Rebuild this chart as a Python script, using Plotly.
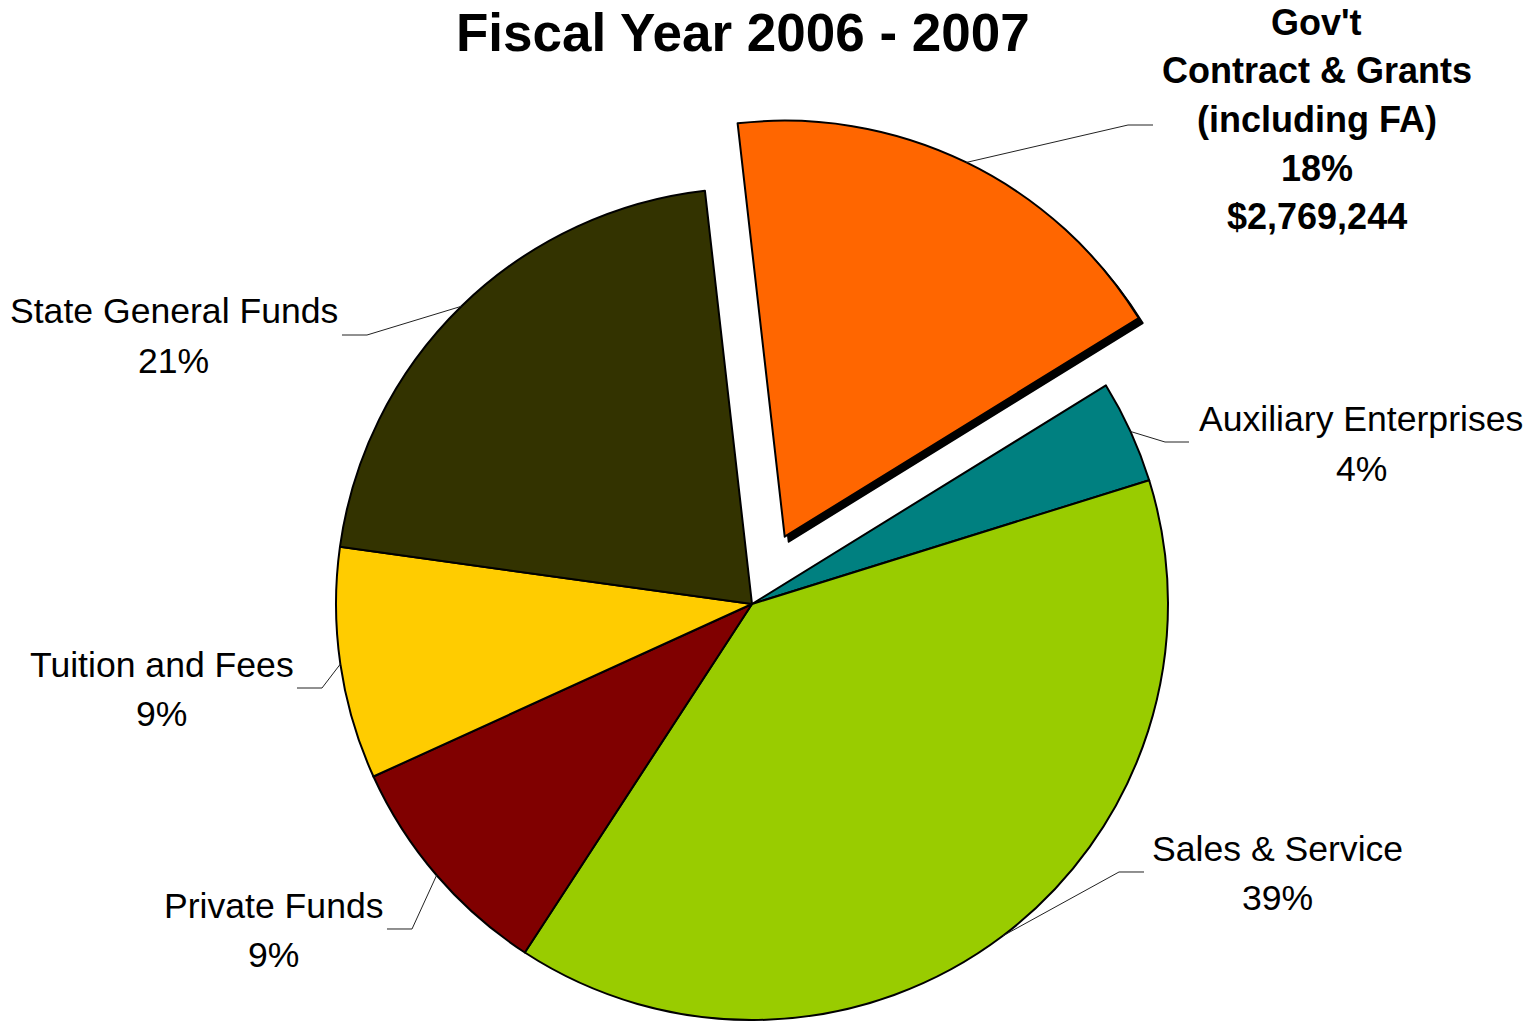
import math
import plotly.graph_objects as go

# ---- data -------------------------------------------------------------
categories = [
    "Gov't Contract & Grants (including FA)",
    "Auxiliary Enterprises",
    "Sales & Service",
    "Private Funds",
    "Tuition and Fees",
    "State General Funds",
]
shares = [18, 4, 39, 9, 9, 21]          # percent of total revenue
gov_amount = "$2,769,244"               # dollar figure shown for the exploded slice
label_names = [
    ["Gov't", "Contract & Grants", "(including FA)"],
    ["Auxiliary Enterprises"],
    ["Sales & Service"],
    ["Private Funds"],
    ["Tuition and Fees"],
    ["State General Funds"],
]
title_text = "Fiscal Year 2006 - 2007"

# ---- styling / layout -------------------------------------------------
colors = ["#FF6600", "#008080", "#99CC00", "#800000", "#FFCC00", "#333300"]
W, H = 1539, 1021
CX, CY, R = 752, 604, 416               # pie centre and radius in pixels
PULL = 0.18                             # explode distance of the first slice (fraction of R)
ROTATION = -6.5                         # start angle, clockwise from 12 o'clock
SHADOW = (4, 5)                         # drop-shadow offset of the exploded slice (px)
OUTLINE = 2
FONT = "Liberation Sans, Arial, sans-serif"
LINE_COLOR = "#222222"

# label placement: text block centre, elbow of the leader line, end of the horizontal tick
label_layout = [
    dict(cx=1316.5, cy=119.5, pitch=48.5, elbow=(1128, 125), end=1153, bold=True),
    dict(cx=1361.0, cy=444.0, pitch=49.5, elbow=(1165, 442), end=1189, bold=False),
    dict(cx=1277.5, cy=873.5, pitch=49.5, elbow=(1119, 872), end=1144, bold=False),
    dict(cx=273.5, cy=930.5, pitch=49.5, elbow=(412, 929), end=387, bold=False),
    dict(cx=161.5, cy=689.5, pitch=49.5, elbow=(322, 688), end=297, bold=False),
    dict(cx=173.5, cy=336.0, pitch=49.5, elbow=(367, 335), end=342, bold=False),
]


def px_x(x):
    return x / W


def px_y(y):
    return 1 - y / H


def domain(dx=0.0, dy=0.0):
    return dict(
        x=[px_x(CX - R + dx), px_x(CX + R + dx)],
        y=[px_y(CY + R + dy), px_y(CY - R + dy)],
    )


total = sum(shares)
mid_angles = []
acc = 0.0
for v in shares:
    mid_angles.append(math.radians(ROTATION + 360.0 * (acc + v / 2.0) / total))
    acc += v

# offset of the exploded slice along its bisector
pull_dx = PULL * R * math.sin(mid_angles[0])
pull_dy = -PULL * R * math.cos(mid_angles[0])

clear = "rgba(0,0,0,0)"
n = len(shares)
common = dict(
    labels=categories, values=shares, sort=False, direction="clockwise",
    rotation=ROTATION, textinfo="none", hoverinfo="skip", showlegend=False,
)

fig = go.Figure()
# the un-exploded slices
fig.add_trace(go.Pie(
    domain=domain(),
    marker=dict(colors=[clear] + colors[1:],
                line=dict(color="black", width=[0] + [OUTLINE] * (n - 1))),
    **common,
))
# shadow of the exploded slice
fig.add_trace(go.Pie(
    domain=domain(pull_dx + SHADOW[0], pull_dy + SHADOW[1]),
    marker=dict(colors=["black"] + [clear] * (n - 1),
                line=dict(color="black", width=[OUTLINE] + [0] * (n - 1))),
    **common,
))
# the exploded slice itself
fig.add_trace(go.Pie(
    domain=domain(pull_dx, pull_dy),
    marker=dict(colors=[colors[0]] + [clear] * (n - 1),
                line=dict(color="black", width=[OUTLINE] + [0] * (n - 1))),
    **common,
))

shapes = []
annotations = []
for i, (names, v, lay) in enumerate(zip(label_names, shares, label_layout)):
    # leader line: from the slice rim at its bisector, to the elbow, then a short horizontal
    ox, oy = (CX + pull_dx, CY + pull_dy) if i == 0 else (CX, CY)
    sx = ox + R * math.sin(mid_angles[i])
    sy = oy - R * math.cos(mid_angles[i])
    ex, ey = lay["elbow"]
    path = "M {:.5f},{:.5f} L {:.5f},{:.5f} L {:.5f},{:.5f}".format(
        px_x(sx), px_y(sy), px_x(ex), px_y(ey), px_x(lay["end"]), px_y(ey))
    shapes.append(dict(type="path", xref="paper", yref="paper", path=path,
                       line=dict(color=LINE_COLOR, width=1)))

    lines = list(names) + [f"{v}%"]
    if i == 0:
        lines.append(gov_amount)
    k = len(lines)
    for j, t in enumerate(lines):
        y = lay["cy"] + (j - (k - 1) / 2.0) * lay["pitch"]
        annotations.append(dict(
            text=f"<b>{t}</b>" if lay["bold"] else t,
            x=px_x(lay["cx"]), y=px_y(y), xref="paper", yref="paper",
            xanchor="center", yanchor="middle", showarrow=False,
            font=dict(family=FONT, size=36 if lay["bold"] else 35.6, color="black"),
        ))

annotations.append(dict(
    text=f"<b>{title_text}</b>", x=px_x(743), y=px_y(32), xref="paper", yref="paper",
    xanchor="center", yanchor="middle", showarrow=False,
    font=dict(family=FONT, size=53, color="black"),
))

fig.update_layout(
    width=W, height=H,
    margin=dict(l=0, r=0, t=0, b=0),
    paper_bgcolor="white", plot_bgcolor="white",
    shapes=shapes, annotations=annotations,
    hovermode=False,
)

fig.write_html("out.html")
